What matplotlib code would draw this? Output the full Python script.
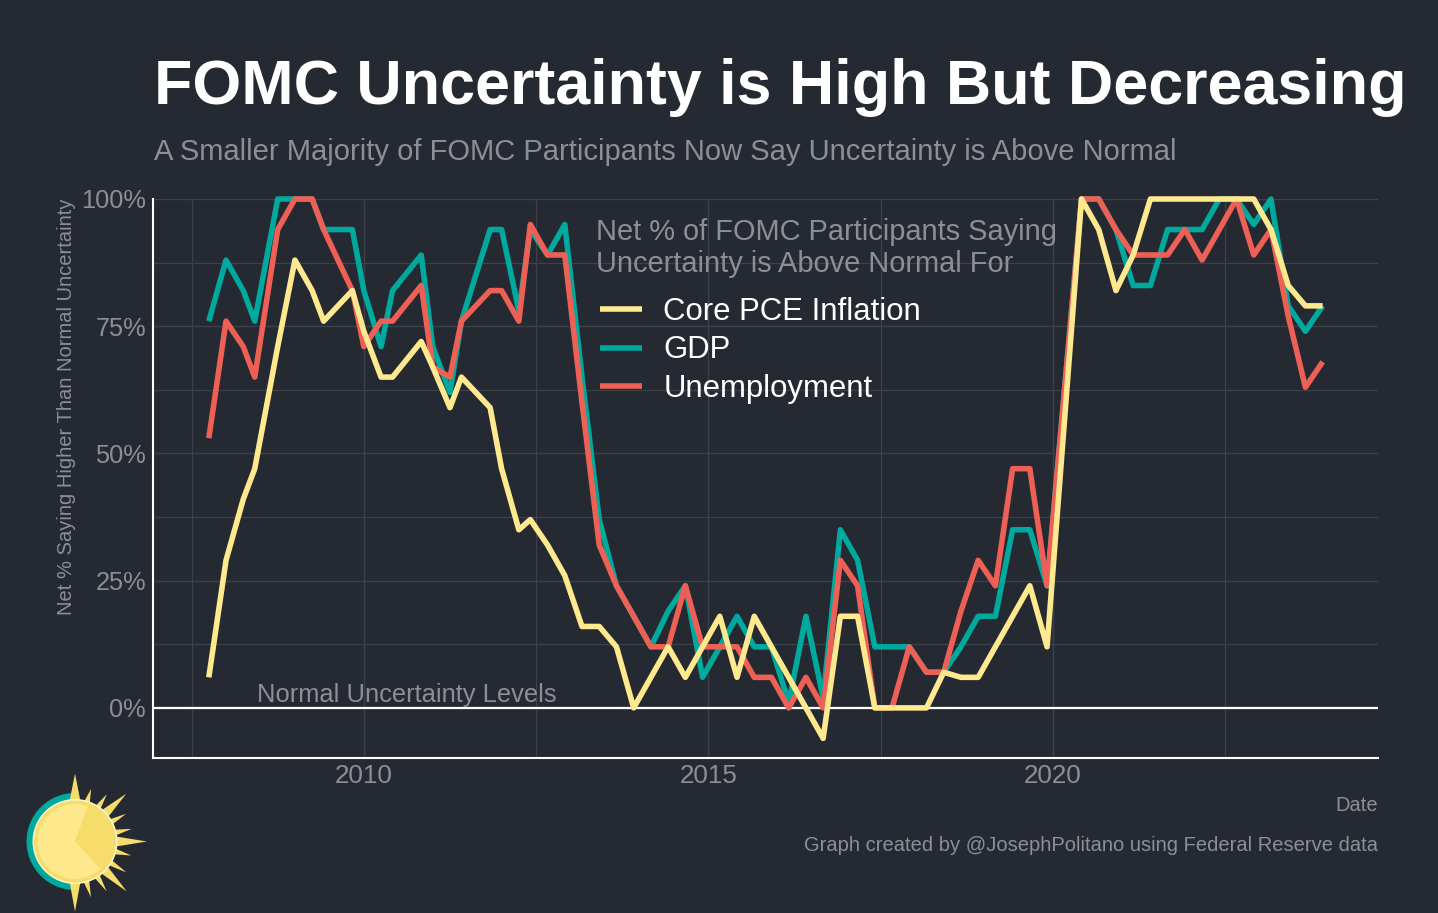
import numpy as np
import matplotlib
matplotlib.use("Agg")
import matplotlib.pyplot as plt
from matplotlib.patches import Circle, Wedge, Polygon

# ---- data -------------------------------------------------------------
meeting_dates = [
    "2007-10", "2008-01", "2008-04", "2008-06", "2008-10", "2009-01", "2009-04", "2009-06",
    "2009-11", "2010-01", "2010-04", "2010-06", "2010-11", "2011-01", "2011-04", "2011-06",
    "2011-11", "2012-01", "2012-04", "2012-06", "2012-09", "2012-12",
    "2013-03", "2013-06", "2013-09", "2013-12", "2014-03", "2014-06", "2014-09", "2014-12",
    "2015-03", "2015-06", "2015-09", "2015-12", "2016-03", "2016-06", "2016-09", "2016-12",
    "2017-03", "2017-06", "2017-09", "2017-12", "2018-03", "2018-06", "2018-09", "2018-12",
    "2019-03", "2019-06", "2019-09", "2019-12", "2020-06", "2020-09", "2020-12",
    "2021-03", "2021-06", "2021-09", "2021-12", "2022-03", "2022-06", "2022-09", "2022-12",
    "2023-03", "2023-06", "2023-09", "2023-12",
]
core_pce = [
    6, 29, 41, 47, 71, 88, 82, 76,
    82, 74, 65, 65, 72, 67, 59, 65,
    59, 47, 35, 37, 32, 26,
    16, 16, 12, 0, 6, 12, 6, 12,
    18, 6, 18, 12, 6, 0, -6, 18,
    18, 0, 0, 0, 0, 7, 6, 6,
    12, 18, 24, 12, 100, 94, 82,
    89, 100, 100, 100, 100, 100, 100, 100,
    94, 83, 79, 79,
]
gdp = [
    76, 88, 82, 76, 100, 100, 100, 94,
    94, 82, 71, 82, 89, 71, 62, 76,
    94, 94, 78, 94, 89, 95,
    65, 37, 24, 18, 12, 19, 24, 6,
    12, 18, 12, 12, 1, 18, 2, 35,
    29, 12, 12, 12, 7, 7, 12, 18,
    18, 35, 35, 24, 100, 100, 94,
    83, 83, 94, 94, 94, 100, 100, 95,
    100, 79, 74, 79,
]
unemployment = [
    53, 76, 71, 65, 94, 100, 100, 94,
    82, 71, 76, 76, 83, 67, 65, 76,
    82, 82, 76, 95, 89, 89,
    60, 32, 24, 18, 12, 12, 24, 12,
    12, 12, 6, 6, 0, 6, 0, 29,
    24, 0, 0, 12, 7, 7, 19, 29,
    24, 47, 47, 24, 100, 100, 94,
    89, 89, 89, 94, 88, 94, 100, 89,
    94, 77, 63, 68,
]
y_ticks = [0, 25, 50, 75, 100]
y_labels = ["0%", "25%", "50%", "75%", "100%"]
x_ticks = [2010, 2015, 2020]
x_labels = ["2010", "2015", "2020"]

title = "FOMC Uncertainty is High But Decreasing"
subtitle = "A Smaller Majority of FOMC Participants Now Say Uncertainty is Above Normal"
legend_title = "Net % of FOMC Participants Saying\nUncertainty is Above Normal For"
caption = "Graph created by @JosephPolitano using Federal Reserve data"

# ---- style ------------------------------------------------------------
W, H = 1438, 913
BG = "#252A32"
GRID = "#3D4149"
GREY = "#8C8F95"
YELLOW = "#FFE98F"
TEAL = "#00A99D"
RED = "#EE6055"
plt.rcParams["font.family"] = ["Liberation Sans", "DejaVu Sans"]


def pt(px):
    return px * 0.72


dates = np.array([int(d[:4]) + (int(d[5:]) - 1) / 12 for d in meeting_dates])

fig = plt.figure(figsize=(W / 100, H / 100), dpi=100, facecolor=BG)
ax = fig.add_axes([153 / W, 1 - 758 / H, (1378 - 153) / W, (758 - 199) / H], facecolor=BG)
ax.set_xlim(2006.94, 2024.72)
ax.set_ylim(-9.85, 100)

ax.set_yticks(y_ticks, y_labels)
ax.set_yticks([12.5, 37.5, 62.5, 87.5], minor=True)
ax.set_xticks(x_ticks, x_labels)
ax.set_xticks([2007.5, 2012.5, 2017.5, 2022.5], minor=True)
ax.grid(True, which="major", color=GRID, lw=1.0, zorder=0)
ax.grid(True, which="minor", color=GRID, lw=0.85, zorder=0)
ax.tick_params(which="both", length=0)
ax.tick_params(axis="y", labelsize=pt(25.4), labelcolor=GREY, pad=5)
ax.tick_params(axis="x", labelsize=pt(26), labelcolor=GREY, pad=4)
for s in ("top", "right"):
    ax.spines[s].set_visible(False)
for s in ("left", "bottom"):
    ax.spines[s].set_color("white")
    ax.spines[s].set_linewidth(1.5)

ax.axhline(0, color="white", lw=1.6, zorder=2.5)
lw = 4.0
style = dict(lw=lw, clip_on=False, solid_joinstyle="round", solid_capstyle="butt")
ax.plot(dates, gdp, color=TEAL, zorder=3, label="GDP", **style)
ax.plot(dates, unemployment, color=RED, zorder=4, label="Unemployment", **style)
ax.plot(dates, core_pce, color=YELLOW, zorder=5, label="Core PCE Inflation", **style)

ax.text(2008.45, 1.2, "Normal Uncertainty Levels", color=GREY, fontsize=pt(25.5), ha="left", va="baseline", zorder=6)

handles, labels = ax.get_legend_handles_labels()
order = [2, 0, 1]
leg = ax.legend(
    [handles[i] for i in order], [labels[i] for i in order],
    loc="upper left", bbox_to_anchor=(600 / W, 1 - 297 / H),
    bbox_transform=fig.transFigure, frameon=False, fontsize=pt(31.2),
    handlelength=1.345, handletextpad=0.68, labelspacing=0.27, borderpad=0, borderaxespad=0,
    labelcolor="white",
)
leg.set_zorder(7)
fig.text(596 / W, 1 - 240 / H, legend_title.split("\n")[0], color=GREY, fontsize=pt(29), ha="left", va="baseline")
fig.text(596 / W, 1 - 272 / H, legend_title.split("\n")[1], color=GREY, fontsize=pt(29), ha="left", va="baseline")

fig.text(154 / W, 1 - 104 / H, title, color="white", fontsize=pt(62.7), fontweight="bold", ha="left", va="baseline")
fig.text(154 / W, 1 - 160 / H, subtitle, color=GREY, fontsize=pt(29.15), ha="left", va="baseline")
fig.text(67 / W, 1 - 407 / H, "Net % Saying Higher Than Normal Uncertainty", color=GREY, fontsize=pt(20.2),
         rotation=90, ha="center", va="center")
fig.text(1378 / W, 1 - 805 / H, "Date", color=GREY, fontsize=pt(20.2), ha="right", va="center")
fig.text(1378 / W, 1 - 845 / H, caption, color=GREY, fontsize=pt(20.2), ha="right", va="center")

# ---- sun logo (decoration, in pixel coordinates, y axis runs downward) --
logo = fig.add_axes([0, 0, 1, 1], facecolor="none")
logo.set_xlim(0, W)
logo.set_ylim(H, 0)
logo.axis("off")
cx, cy = 75, 841.5
SUN = "#F5DC6B"
logo.add_patch(Wedge((cx, cy), 48.5, 90, 270, color=TEAL, lw=0))
rays = [  # angle (deg, up = 90), tip radius, half-width of base (deg)
    (90, 68, 8), (73, 55, 4.5), (56, 57, 4.5), (43, 70, 7), (28.5, 58, 4.5), (12.6, 58, 4.5),
    (0, 72, 7.5), (-14, 58, 4.5), (-31, 60, 4.5), (-44, 72, 7), (-57.6, 59, 4.5), (-74, 58, 4.5), (-90, 70, 8),
]
for ang, tip, hw in rays:
    a = np.deg2rad(ang)
    b1, b2 = np.deg2rad(ang - hw), np.deg2rad(ang + hw)
    r0 = 40
    pts = [(cx + r0 * np.cos(b1), cy - r0 * np.sin(b1)),
           (cx + tip * np.cos(a), cy - tip * np.sin(a)),
           (cx + r0 * np.cos(b2), cy - r0 * np.sin(b2))]
    logo.add_patch(Polygon(pts, closed=True, color=SUN, lw=0))
logo.add_patch(Circle((cx, cy), 42.5, color="#FFF6D0", lw=0))
logo.add_patch(Circle((cx, cy), 41, color=SUN, lw=0))
logo.add_patch(Circle((cx, cy), 37.5, color="#FEE88C", lw=0))
logo.add_patch(Wedge((cx, cy), 37.5, -70, 47, color=SUN, lw=0))

fig.savefig("out.png", dpi=100, facecolor=BG)
